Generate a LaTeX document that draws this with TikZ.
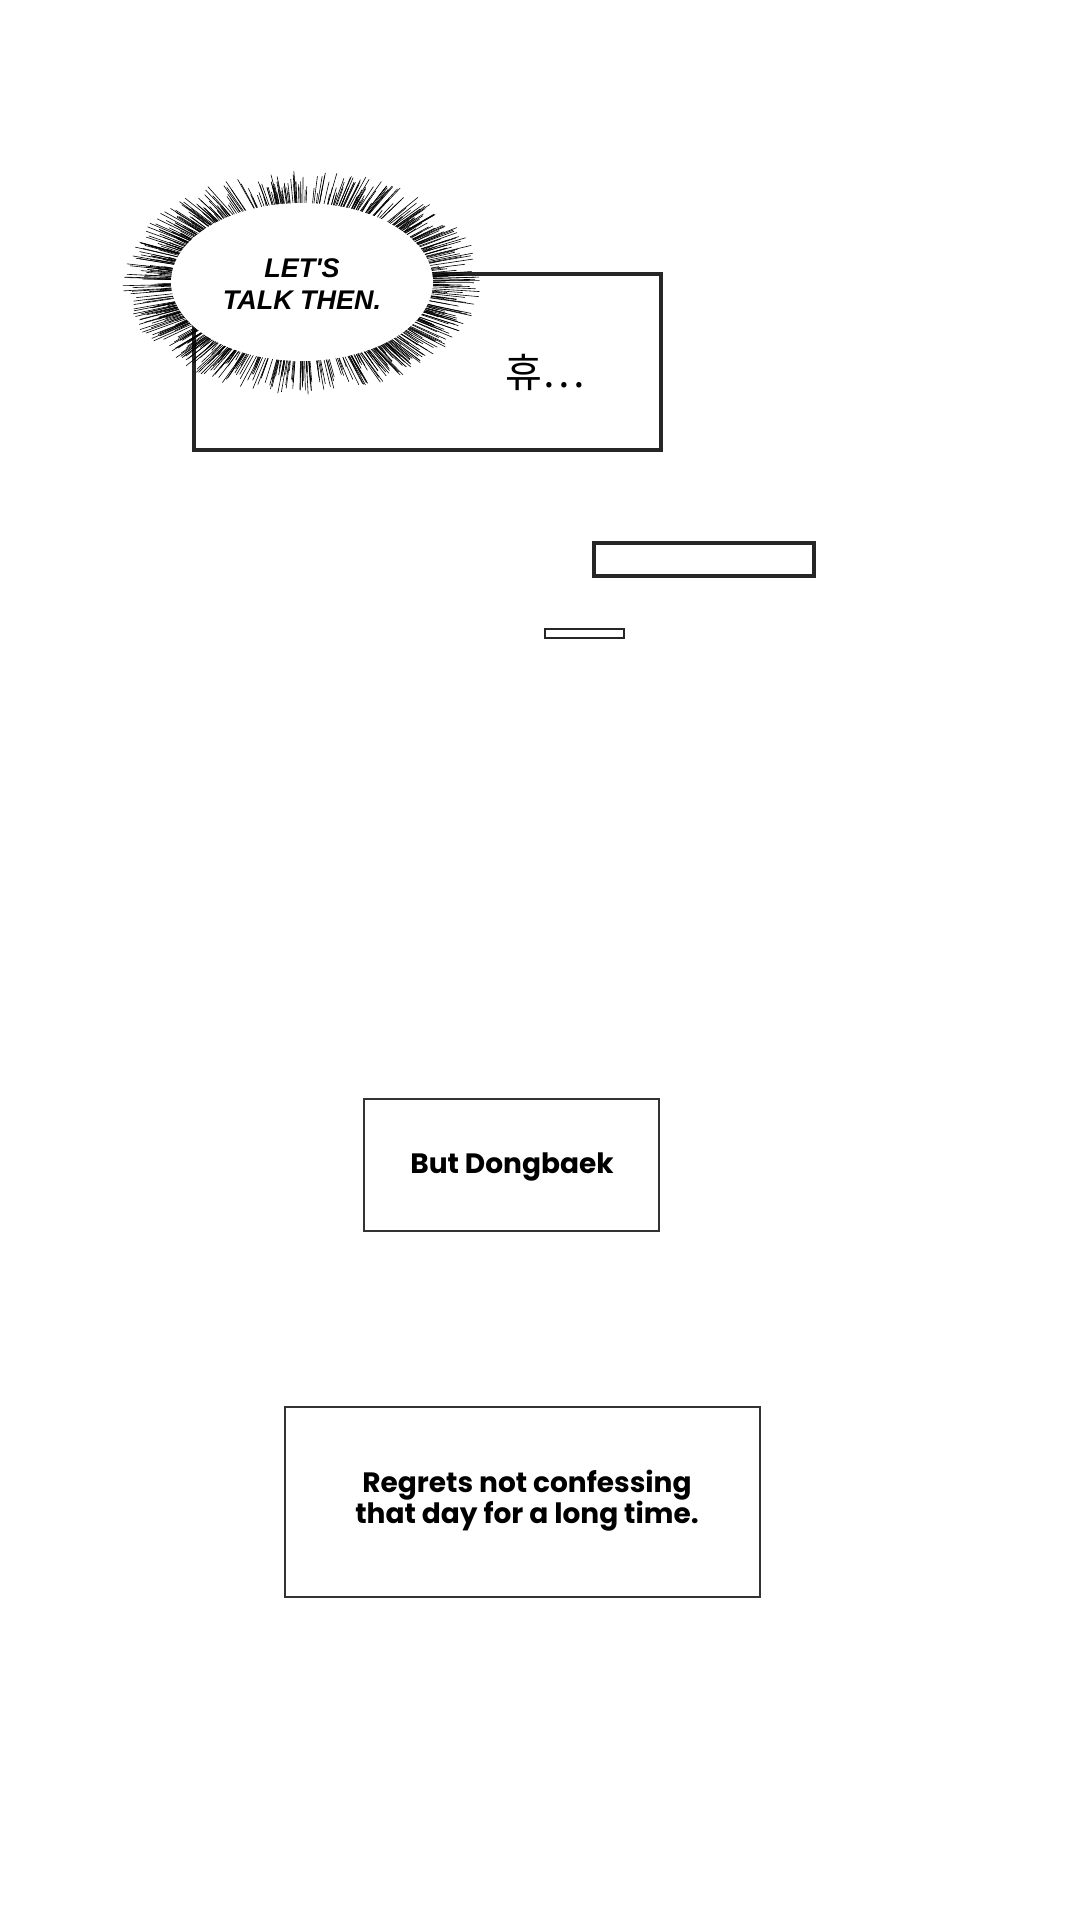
\documentclass[tikz,border=0pt]{standalone}
\usepackage{fontspec}
\setmainfont{Poppins}
\newfontfamily\cjk{Noto Sans CJK KR}
\newfontfamily\comic{Liberation Sans}
\begin{document}
\begin{tikzpicture}[x=1pt,y=-1pt,
  panel/.style={draw=black!85,line width=3.2pt},
  capbox/.style={draw=black!80,line width=1.5pt},
  captxt/.style={font=\fontsize{28}{30}\selectfont\bfseries,align=center,text=black}]
\useasboundingbox[fill=white] (0,0) rectangle (1080,1922);
\draw[panel] (194,274) rectangle (661,450);
\node[font=\cjk\fontsize{40}{40}\selectfont,text=black] (sfx) at (545,372) {휴…};
% spiky balloon
\pgfmathsetseed{7}
\foreach \i in {0,...,700}{
  \pgfmathsetmacro{\a}{rnd*360}
  \pgfmathsetmacro{\l}{1.08+rnd*0.32}
  \draw[line width=0.6pt,black] ({302+128*cos(\a)},{282+77*sin(\a)}) -- ({302+128*\l*cos(\a)},{282+77*(\l+0.06)*sin(\a)});
}
\fill[white] (302,282) ellipse [x radius=131,y radius=79];
\node[font=\comic\itshape\bfseries\fontsize{27}{32}\selectfont,align=center] (talk) at (302,284) {LET'S\\TALK THEN.};
\draw[panel] (594,543) rectangle (814,576);
\draw[panel,line width=2.5pt] (545,629) rectangle (624,638);
\node[capbox,minimum width=295pt,minimum height=132pt] (b1) at (511.5,1165) {};
\node[captxt] (t1) at (512,1167) {But Dongbaek};
\node[capbox,minimum width=475pt,minimum height=190pt] (b2) at (522.5,1502) {};
\node[captxt] (t2) at (527,1501) {Regrets not confessing\\that day for a long time.};
\end{tikzpicture}
\end{document}
